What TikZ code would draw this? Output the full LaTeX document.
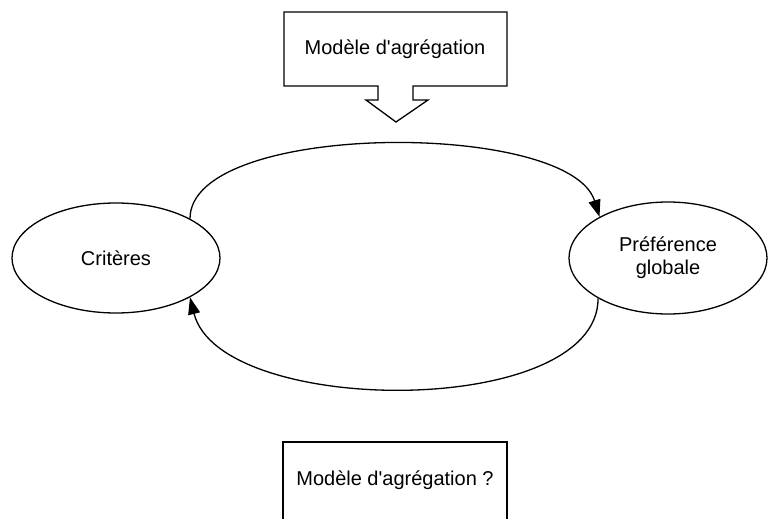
\documentclass[tikz,border=0pt]{standalone}
\usepackage{fontspec}
\newfontfamily\arialfont{Liberation Sans}
\usetikzlibrary{shapes.geometric,arrows.meta}
\begin{document}
\begin{tikzpicture}[x=1pt,y=-1pt,
  every node/.style={font=\arialfont\fontsize{20}{23}\selectfont},
  ell/.style={draw,ellipse,line width=1.3pt,inner sep=0pt,align=center},
  outline/.style={draw,line width=1.3pt,line join=miter},
  arr/.style={line width=1.3pt,-{Triangle[length=17pt,width=12pt]}}]
\useasboundingbox (0,0) rectangle (768,519);
% top callout
\node (model) at (395,49) {Modèle d'agrégation};
\draw[outline] (284,12) -- (507,12) -- (507,86) -- (413,86) -- (413,100) -- (428,100)
  -- (396,122) -- (366,100) -- (378,100) -- (378,86) -- (284,86) -- cycle;
% ellipses
\node[ell,minimum width=208pt,minimum height=110pt] (crit) at (116,258) {Critères};
\node[ell,minimum width=198pt,minimum height=112pt] (pref) at (668,258) {Préférence\\globale};
% connectors
\draw[arr] (crit.28) .. controls +(0,-98) and +(-30,-97) .. (pref.149);
\draw[arr] (pref.210) .. controls +(0,121) and +(30,120) .. (crit.332);
% bottom box
\node (model2) at (395,480) {Modèle d'agrégation ?};
\draw[outline] (283,519) -- (283,442) -- (507,442) -- (507,519);
\end{tikzpicture}
\end{document}
